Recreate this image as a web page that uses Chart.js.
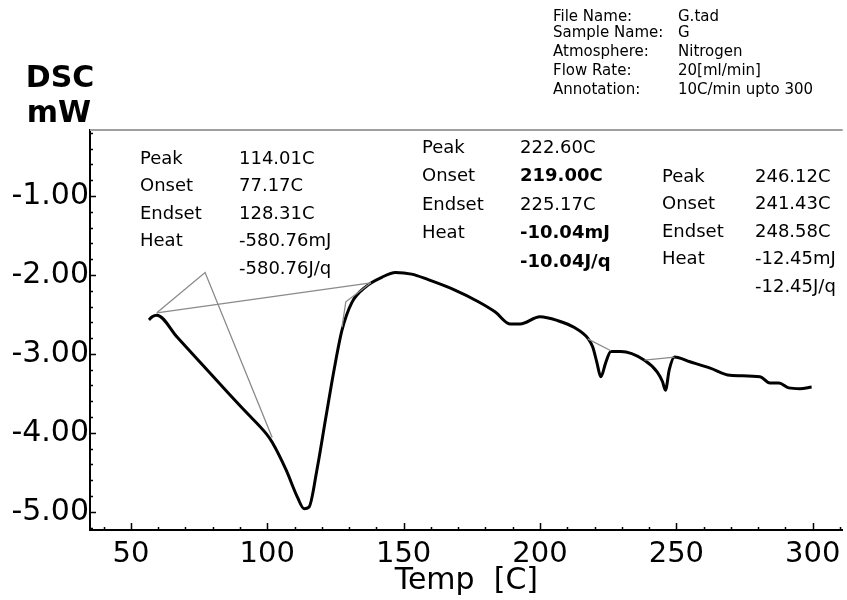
<!DOCTYPE html>
<html>
<head>
<meta charset="utf-8">
<script src="https://cdn.jsdelivr.net/npm/chart.js@4.4.1/dist/chart.umd.min.js"></script>
<style>
  html, body { margin: 0; padding: 0; background: #fff; }
  #dscChart { display: block; }
</style>
</head>
<body>
<canvas id="dscChart" width="847" height="600"></canvas>
<script>
// DSC trace
var tempC = [56.6, 57.8, 59.5, 67, 75.2, 86.1, 92.3, 99.6, 101.8, 106.9, 111, 113.5, 115.3, 118.2, 121.5, 124.5, 127.4, 131, 136.1, 142, 147, 152.9, 159, 168, 177.4, 183.6, 189, 192.7, 200, 206.6, 212.8, 217.5, 219.3, 220.8, 222.3, 224.1, 226, 229.6, 238.3, 243, 244.9, 246, 247.4, 249.3, 255, 262.4, 269.7, 280.7, 284.3, 287.6, 291.2, 295.3, 299.6];
var dscMw = [-2.57, -2.53, -2.51, -2.79, -3.10, -3.51, -3.74, -4.01, -4.12, -4.47, -4.81, -4.96, -4.94, -4.47, -3.80, -3.20, -2.70, -2.35, -2.15, -2.03, -1.97, -1.99, -2.06, -2.18, -2.34, -2.47, -2.62, -2.62, -2.53, -2.58, -2.67, -2.80, -2.91, -3.10, -3.29, -3.11, -2.97, -2.97, -3.08, -3.23, -3.35, -3.46, -3.20, -3.04, -3.10, -3.18, -3.27, -3.29, -3.37, -3.37, -3.43, -3.44, -3.42];

// thin analysis lines (baselines and tangents)
var onset1T = [59.5, 77.2, 101.8];
var onset1Y = [-2.48, -1.97, -4.06];
var base1T = [59.5, 138];
var base1Y = [-2.48, -2.10];
var endset1T = [127.4, 128.8, 138];
var endset1Y = [-2.66, -2.34, -2.10];
var base2T = [217.5, 226];
var base2Y = [-2.81, -2.96];
var base3T = [238.3, 249.3];
var base3Y = [-3.08, -3.04];

// axis
var xMin = 35, xMax = 311;
var yMin = -5.23, yMax = -0.165;

// text
var headerLabels = ['File Name:', 'Sample Name:', 'Atmosphere:', 'Flow Rate:', 'Annotation:'];
var headerValues = ['G.tad', 'G', 'Nitrogen', '20[ml/min]', '10C/min upto 300'];
var peakLabels = ['Peak', 'Onset', 'Endset', 'Heat', ''];
var peak1Values = ['114.01C', '77.17C', '128.31C', '-580.76mJ', '-580.76J/q'];
var peak2Values = ['222.60C', '219.00C', '225.17C', '-10.04mJ', '-10.04J/q'];
var peak3Values = ['246.12C', '241.43C', '248.58C', '-12.45mJ', '-12.45J/q'];

function pts(xs, ys) {
    return xs.map(function(x, i){ return {x: x, y: ys[i]}; });
}

function thinLine(xs, ys) {
    return {
        data: pts(xs, ys),
        borderColor: '#8a8a8a',
        borderWidth: 1.3,
        pointRadius: 0,
        tension: 0
    };
}

var textFont = '"DejaVu Sans", sans-serif';

// inner tick marks, top frame line and the free text
var decorPlugin = {
    id: 'decor',
    afterDraw: function(chart) {
        var ctx = chart.ctx;
        var area = chart.chartArea;
        var xs = chart.scales.x, ys = chart.scales.y;
        ctx.save();

        // top frame
        ctx.strokeStyle = '#a0a0a0';
        ctx.lineWidth = 2;
        ctx.beginPath();
        ctx.moveTo(area.left, area.top);
        ctx.lineTo(area.right, area.top);
        ctx.stroke();

        // ticks pointing into the plot
        ctx.strokeStyle = '#000';
        ctx.lineWidth = 1.5;
        ctx.beginPath();
        xs.ticks.forEach(function(t){
            var px = Math.round(xs.getPixelForValue(t.value)) + 0.5;
            var len = (Math.round(t.value) % 50 === 0) ? 7 : 3;
            ctx.moveTo(px, area.bottom);
            ctx.lineTo(px, area.bottom - len);
        });
        ys.ticks.forEach(function(t){
            var py = Math.round(ys.getPixelForValue(t.value)) + 0.5;
            var major = Math.abs(t.value - Math.round(t.value)) < 1e-6;
            ctx.moveTo(area.left, py);
            ctx.lineTo(area.left + (major ? 6 : 3), py);
        });
        ctx.stroke();

        // y axis name
        ctx.fillStyle = '#000';
        ctx.textAlign = 'center';
        ctx.textBaseline = 'alphabetic';
        ctx.font = 'bold 30px ' + textFont;
        ctx.fillText('DSC', 60, 87);
        ctx.fillText('mW', 59, 122);

        // header
        ctx.textAlign = 'left';
        ctx.textBaseline = 'middle';
        ctx.font = '15px ' + textFont;
        var rowsY = [17, 33, 52, 71, 90];
        headerLabels.forEach(function(s, i){
            ctx.fillText(s, 553, rowsY[i]);
            ctx.fillText(headerValues[i], 678, rowsY[i]);
        });

        // peak tables
        function table(lx, vx, top, step, values, boldRows) {
            values.forEach(function(v, i){
                var y = top + i * step;
                ctx.font = '18px ' + textFont;
                if (peakLabels[i]) ctx.fillText(peakLabels[i], lx, y);
                ctx.font = (boldRows.indexOf(i) >= 0 ? 'bold ' : '') + '18px ' + textFont;
                ctx.fillText(v, vx, y);
            });
        }
        table(140, 239, 159, 27.5, peak1Values, []);
        table(422, 520, 148, 28.5, peak2Values, [1, 3, 4]);
        table(662, 755, 177, 27.5, peak3Values, []);

        ctx.restore();
    }
};

var ctx = document.getElementById('dscChart').getContext('2d');
var myChart = new Chart(ctx, {
    type: 'line',
    data: {
        datasets: [
            thinLine(onset1T, onset1Y),
            thinLine(base1T, base1Y),
            thinLine(endset1T, endset1Y),
            thinLine(base2T, base2Y),
            thinLine(base3T, base3Y),
            {
                label: 'DSC',
                data: pts(tempC, dscMw),
                borderColor: '#000',
                borderWidth: 3,
                pointRadius: 0,
                cubicInterpolationMode: 'monotone'
            }
        ]
    },
    options: {
        responsive: false,
        animation: false,
        layout: { padding: { top: 130, left: 0, right: 0, bottom: 0 } },
        plugins: {
            legend: { display: false },
            tooltip: { enabled: false }
        },
        scales: {
            x: {
                type: 'linear',
                min: xMin,
                max: xMax,
                afterFit: function(scale){ scale.height = 70; },
                grid: { drawOnChartArea: false, drawTicks: false },
                border: { color: '#000', width: 2 },
                ticks: {
                    stepSize: 10,
                    includeBounds: false,
                    autoSkip: false,
                    maxRotation: 0,
                    padding: 7,
                    color: '#000',
                    font: { family: textFont, size: 29 },
                    callback: function(v){ return (Math.round(v) % 50 === 0) ? String(Math.round(v)) : ''; }
                },
                title: {
                    display: true,
                    text: 'Temp  [C]',
                    color: '#000',
                    padding: { top: 0, bottom: 1 },
                    font: { family: textFont, size: 30 }
                }
            },
            y: {
                type: 'linear',
                min: yMin,
                max: yMax,
                afterFit: function(scale){ scale.width = 90; },
                grid: { drawOnChartArea: false, drawTicks: false },
                border: { color: '#000', width: 2 },
                ticks: {
                    stepSize: 0.2,
                    includeBounds: false,
                    autoSkip: false,
                    padding: 1,
                    color: '#000',
                    font: { family: textFont, size: 30 },
                    callback: function(v){
                        return Math.abs(v - Math.round(v)) < 1e-6 ? Math.round(v).toFixed(2) : '';
                    }
                }
            }
        }
    },
    plugins: [decorPlugin]
});
</script>
</body>
</html>
